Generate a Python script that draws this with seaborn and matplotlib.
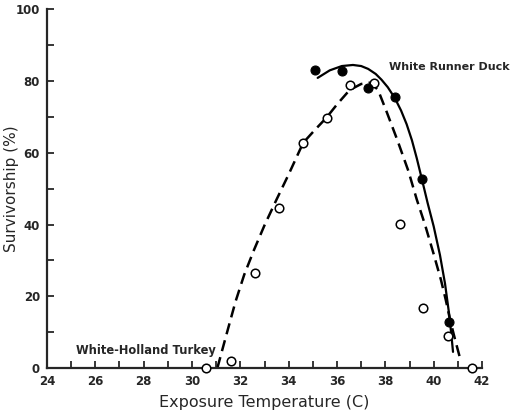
import matplotlib
matplotlib.use("Agg")
import matplotlib.pyplot as plt
import seaborn as sns
import pandas as pd

# Observed survivorship points
turkey_temp = [30.6, 31.6, 32.6, 33.6, 34.6, 35.6, 36.55, 37.55, 38.6, 39.57, 40.58, 41.6]
turkey_surv = [0.0, 2.0, 26.5, 44.5, 62.8, 69.8, 78.8, 79.6, 40.2, 16.7, 8.9, 0.0]

duck_temp = [35.1, 36.2, 37.3, 38.4, 39.5, 40.65]
duck_surv = [83.0, 82.7, 78.0, 75.7, 52.8, 12.8]

# Fitted curves
turkey_fit_x = [31.05, 31.4, 31.8, 32.16, 32.57, 33.0, 33.5, 34.0, 34.6, 35.1, 35.55,
                36.0, 36.52, 37.0, 37.4, 37.7, 38.05, 38.5, 38.95, 39.3, 39.64,
                39.99, 40.3, 40.5, 40.68, 40.89, 41.1]
turkey_fit_y = [0.0, 8.7, 18.5, 26.0, 33.0, 39.8, 47.0, 54.0, 62.8, 66.5, 69.7,
                73.5, 77.5, 79.2, 79.6, 77.5, 71.5, 63.5, 55.0, 47.0, 40.0,
                32.0, 24.6, 19.0, 13.4, 7.8, 2.5]

duck_fit_x = [35.2, 35.7, 36.2, 36.66, 37.0, 37.29, 37.6, 37.84, 38.1, 38.39, 38.65,
              38.88, 39.1, 39.3, 39.5, 39.75, 40.0, 40.26, 40.47, 40.65, 40.75, 40.8]
duck_fit_y = [80.9, 83.0, 84.2, 84.5, 84.2, 83.4, 82.0, 80.4, 78.3, 75.3, 71.8,
              68.0, 63.5, 58.5, 53.0, 46.0, 39.5, 31.5, 23.5, 14.5, 8.0, 4.5]

x_ticks = list(range(24, 43, 2))
y_ticks = list(range(0, 101, 20))

sns.set_style("ticks")
plt.rcParams['font.family'] = ['DejaVu Sans']

fig = plt.figure(figsize=(5.13, 4.17), dpi=100)
ax = fig.add_axes([0.0916, 0.1175, 0.848, 0.86])

tf = pd.DataFrame({"x": turkey_fit_x, "y": turkey_fit_y})
df = pd.DataFrame({"x": duck_fit_x, "y": duck_fit_y})
sns.lineplot(data=tf, x="x", y="y", sort=False, ax=ax, color="black",
             linewidth=1.8, linestyle=(0, (4.5, 2.5)), clip_on=False)
sns.lineplot(data=df, x="x", y="y", sort=False, ax=ax, color="black",
             linewidth=1.6, clip_on=False)

t = pd.DataFrame({"x": turkey_temp, "y": turkey_surv})
d = pd.DataFrame({"x": duck_temp, "y": duck_surv})
sns.scatterplot(data=t, x="x", y="y", ax=ax, s=38, facecolor="white",
                edgecolor="black", linewidth=1.1, zorder=5, clip_on=False)
sns.scatterplot(data=d, x="x", y="y", ax=ax, s=42, color="black",
                edgecolor="black", linewidth=0.8, zorder=6, clip_on=False)

ax.set_xlim(24, 42)
ax.set_ylim(0, 100)
ax.set_xticks(x_ticks)
ax.set_xticks(list(range(24, 43)), minor=True)
ax.set_yticks(y_ticks)
ax.set_yticks(list(range(0, 101, 10)), minor=True)
ax.tick_params(direction="in", length=5, width=1.3, labelsize=8.5, pad=5)
ax.tick_params(which="minor", direction="in", length=5, width=1.3)
for lab in ax.get_xticklabels() + ax.get_yticklabels():
    lab.set_fontweight("bold")
sns.despine(ax=ax)
for s in ["left", "bottom"]:
    ax.spines[s].set_linewidth(1.6)

ax.set_xlabel("Exposure Temperature (C)", fontsize=11.5, labelpad=5)
ax.set_ylabel("Survivorship (%)", fontsize=11)
ax.yaxis.set_label_coords(-0.064, 0.5)

ax.text(38.15, 84, "White Runner Duck", fontsize=8, fontweight="bold",
        ha="left", va="center")
ax.text(25.2, 5.0, "White-Holland Turkey", fontsize=8.3, fontweight="bold",
        ha="left", va="center")

fig.savefig("out.png", dpi=100)
